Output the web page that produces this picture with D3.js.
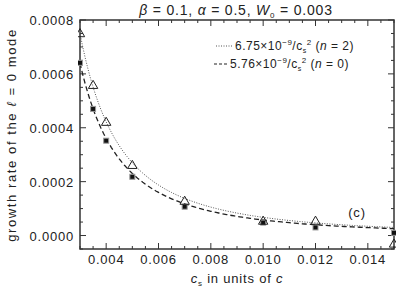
<!DOCTYPE html>
<html>
<head>
<meta charset="utf-8">
<script src="https://cdn.jsdelivr.net/npm/d3@7"></script>
<style>
  body { margin: 0; background: #fff; }
  text { font-family: "Liberation Sans", Arial, sans-serif; fill: #222; }
</style>
</head>
<body>
<svg width="408" height="291"></svg>
<script>
const width = 408;
const height = 291;

// measured growth rates
const cs = [0.003, 0.0035, 0.004, 0.005, 0.007, 0.010, 0.012, 0.015];
const rateN2 = [0.000748, 0.000556, 0.000419, 0.000259, 0.000126, 0.000052, 0.000052, -0.000033];
const rateN0 = [0.000641, 0.000470, 0.000352, 0.000218, 0.000107, 0.000048, 0.000030, 0.000010];

// fit coefficients from the legend (A / cs^2)
const fitCoef = [6.75e-9, 5.76e-9];
const xTicks = [0.004, 0.006, 0.008, 0.010, 0.012, 0.014];
const yTicks = [0.0000, 0.0002, 0.0004, 0.0006, 0.0008];

const svg = d3.select("svg");
const margin = { left: 80, right: 14, top: 20, bottom: 42 };

const x = d3.scaleLinear()
  .domain([0.003, 0.015])
  .range([margin.left, width - margin.right]);

const y = d3.scaleLinear()
  .domain([-0.00005, 0.0008])
  .range([height - margin.bottom, margin.top]);

const defs = svg.append("defs");
defs.append("clipPath").attr("id", "plot")
  .append("rect")
  .attr("x", margin.left - 2).attr("y", margin.top)
  .attr("width", x.range()[1] - margin.left + 4)
  .attr("height", y.range()[0] - margin.top);

const axisColor = "#333";
const minorX = d3.range(0.003, 0.01501, 0.0005);
const minorY = d3.range(-0.00005, 0.0008001, 0.00005);

// ticks, inward on all four sides
function drawTicks() {
  const g = svg.append("g").attr("stroke", axisColor).attr("stroke-width", 1);
  const isMajor = (v, step) => Math.abs(v / step - Math.round(v / step)) < 1e-6;
  minorX.forEach(v => {
    const len = isMajor(v, 0.002) ? 6 : 3;
    const px = x(v);
    g.append("line").attr("x1", px).attr("x2", px)
      .attr("y1", y.range()[0]).attr("y2", y.range()[0] - len);
    g.append("line").attr("x1", px).attr("x2", px)
      .attr("y1", margin.top).attr("y2", margin.top + len);
  });
  minorY.forEach(v => {
    const len = isMajor(v, 0.0002) ? 6 : 3;
    const py = y(v);
    g.append("line").attr("y1", py).attr("y2", py)
      .attr("x1", x.range()[0]).attr("x2", x.range()[0] + len);
    g.append("line").attr("y1", py).attr("y2", py)
      .attr("x1", x.range()[1]).attr("x2", x.range()[1] - len);
  });
}
drawTicks();

svg.append("rect")
  .attr("x", margin.left).attr("y", margin.top)
  .attr("width", x.range()[1] - margin.left)
  .attr("height", y.range()[0] - margin.top)
  .attr("fill", "none")
  .attr("stroke", axisColor)
  .attr("stroke-width", 1.5);

// tick labels
svg.append("g").selectAll("text")
  .data(xTicks).enter().append("text")
  .attr("x", d => x(d))
  .attr("y", y.range()[0] + 15)
  .attr("text-anchor", "middle")
  .style("font-size", "13px")
  .style("letter-spacing", "0.8px")
  .text(d => d3.format(".3f")(d));

svg.append("g").selectAll("text")
  .data(yTicks).enter().append("text")
  .attr("x", margin.left - 6)
  .attr("y", d => y(d) + 5)
  .attr("text-anchor", "end")
  .style("font-size", "13px")
  .style("letter-spacing", "0.8px")
  .text(d => d3.format(".4f")(d));

// fit curves
const curveX = d3.range(0.003, 0.01501, 0.0001);
const line = d3.line().x(d => x(d[0])).y(d => y(d[1]));
const plot = svg.append("g").attr("clip-path", "url(#plot)");

plot.append("path")
  .datum(curveX.map(c => [c, fitCoef[0] / (c * c)]))
  .attr("d", line)
  .attr("fill", "none")
  .attr("stroke", "#555")
  .attr("stroke-width", 1)
  .attr("stroke-dasharray", "1,1.5");

plot.append("path")
  .datum(curveX.map(c => [c, fitCoef[1] / (c * c)]))
  .attr("d", line)
  .attr("fill", "none")
  .attr("stroke", "#222")
  .attr("stroke-width", 1.3)
  .attr("stroke-dasharray", "5,3");

// markers
const tri = d3.symbol().type(d3.symbolTriangle).size(38);
plot.append("g").selectAll("rect")
  .data(cs.map((c, i) => [c, rateN0[i]])).enter().append("rect")
  .attr("x", d => x(d[0]) - 2.5)
  .attr("y", d => y(d[1]) - 2.5)
  .attr("width", 5).attr("height", 5)
  .attr("fill", "#111")
  .attr("stroke", "#999")
  .attr("stroke-width", 1);

plot.append("g").selectAll("path")
  .data(cs.map((c, i) => [c, rateN2[i]])).enter().append("path")
  .attr("d", tri)
  .attr("transform", d => `translate(${x(d[0])},${y(d[1])})`)
  .attr("fill", "none")
  .attr("stroke", "#222")
  .attr("stroke-width", 1);

// legend
const legend = svg.append("g").style("font-size", "12px").style("letter-spacing", "0.5px");
legend.append("line")
  .attr("x1", 216).attr("x2", 232).attr("y1", 46).attr("y2", 46)
  .attr("stroke", "#555").attr("stroke-dasharray", "1,1.5");
const l1 = legend.append("text").attr("x", 235).attr("y", 50);
l1.append("tspan").text("6.75×10");
l1.append("tspan").attr("dy", -5).style("font-size", "8px").text("−9");
l1.append("tspan").attr("dy", 5).text("/c");
l1.append("tspan").attr("dy", 3).style("font-size", "7px").text("s");
l1.append("tspan").attr("dy", -8).style("font-size", "8px").text("2");
l1.append("tspan").attr("dy", 5).text(" (");
l1.append("tspan").style("font-style", "italic").text("n");
l1.append("tspan").text(" = 2)");

legend.append("line")
  .attr("x1", 214).attr("x2", 228).attr("y1", 64).attr("y2", 64)
  .attr("stroke", "#222").attr("stroke-width", 1.2).attr("stroke-dasharray", "3,2");
const l2 = legend.append("text").attr("x", 230).attr("y", 68);
l2.append("tspan").text("5.76×10");
l2.append("tspan").attr("dy", -5).style("font-size", "8px").text("−9");
l2.append("tspan").attr("dy", 5).text("/c");
l2.append("tspan").attr("dy", 3).style("font-size", "7px").text("s");
l2.append("tspan").attr("dy", -8).style("font-size", "8px").text("2");
l2.append("tspan").attr("dy", 5).text(" (");
l2.append("tspan").style("font-style", "italic").text("n");
l2.append("tspan").text(" = 0)");

svg.append("text")
  .attr("x", 357).attr("y", 217)
  .attr("text-anchor", "middle")
  .style("font-size", "13px")
  .style("letter-spacing", "0.8px")
  .text("(c)");

// title
const title = svg.append("text")
  .attr("x", 236).attr("y", 15)
  .attr("text-anchor", "middle")
  .style("font-size", "14px")
  .style("letter-spacing", "0.8px");
title.append("tspan").style("font-style", "italic").text("β");
title.append("tspan").text(" = 0.1,  ");
title.append("tspan").style("font-style", "italic").text("α");
title.append("tspan").text(" = 0.5,  ");
title.append("tspan").style("font-style", "italic").text("W");
title.append("tspan").attr("dy", 3).style("font-size", "8px").text("0");
title.append("tspan").attr("dy", -3).text(" = 0.003");

// x label
const xl = svg.append("text")
  .attr("x", 237).attr("y", 283)
  .attr("text-anchor", "middle")
  .style("font-size", "13px")
  .style("letter-spacing", "0.8px");
xl.append("tspan").style("font-style", "italic").text("c");
xl.append("tspan").attr("dy", 3).style("font-size", "8px").text("s");
xl.append("tspan").attr("dy", -3).text(" in units of ");
xl.append("tspan").style("font-style", "italic").text("c");

// y label
const yl = svg.append("text")
  .attr("transform", "translate(16,135) rotate(-90)")
  .attr("text-anchor", "middle")
  .style("font-size", "13px")
  .style("letter-spacing", "1.6px");
yl.append("tspan").text("growth rate of the ");
yl.append("tspan").style("font-style", "italic").text("ℓ");
yl.append("tspan").text(" = 0 mode");
</script>
</body>
</html>
